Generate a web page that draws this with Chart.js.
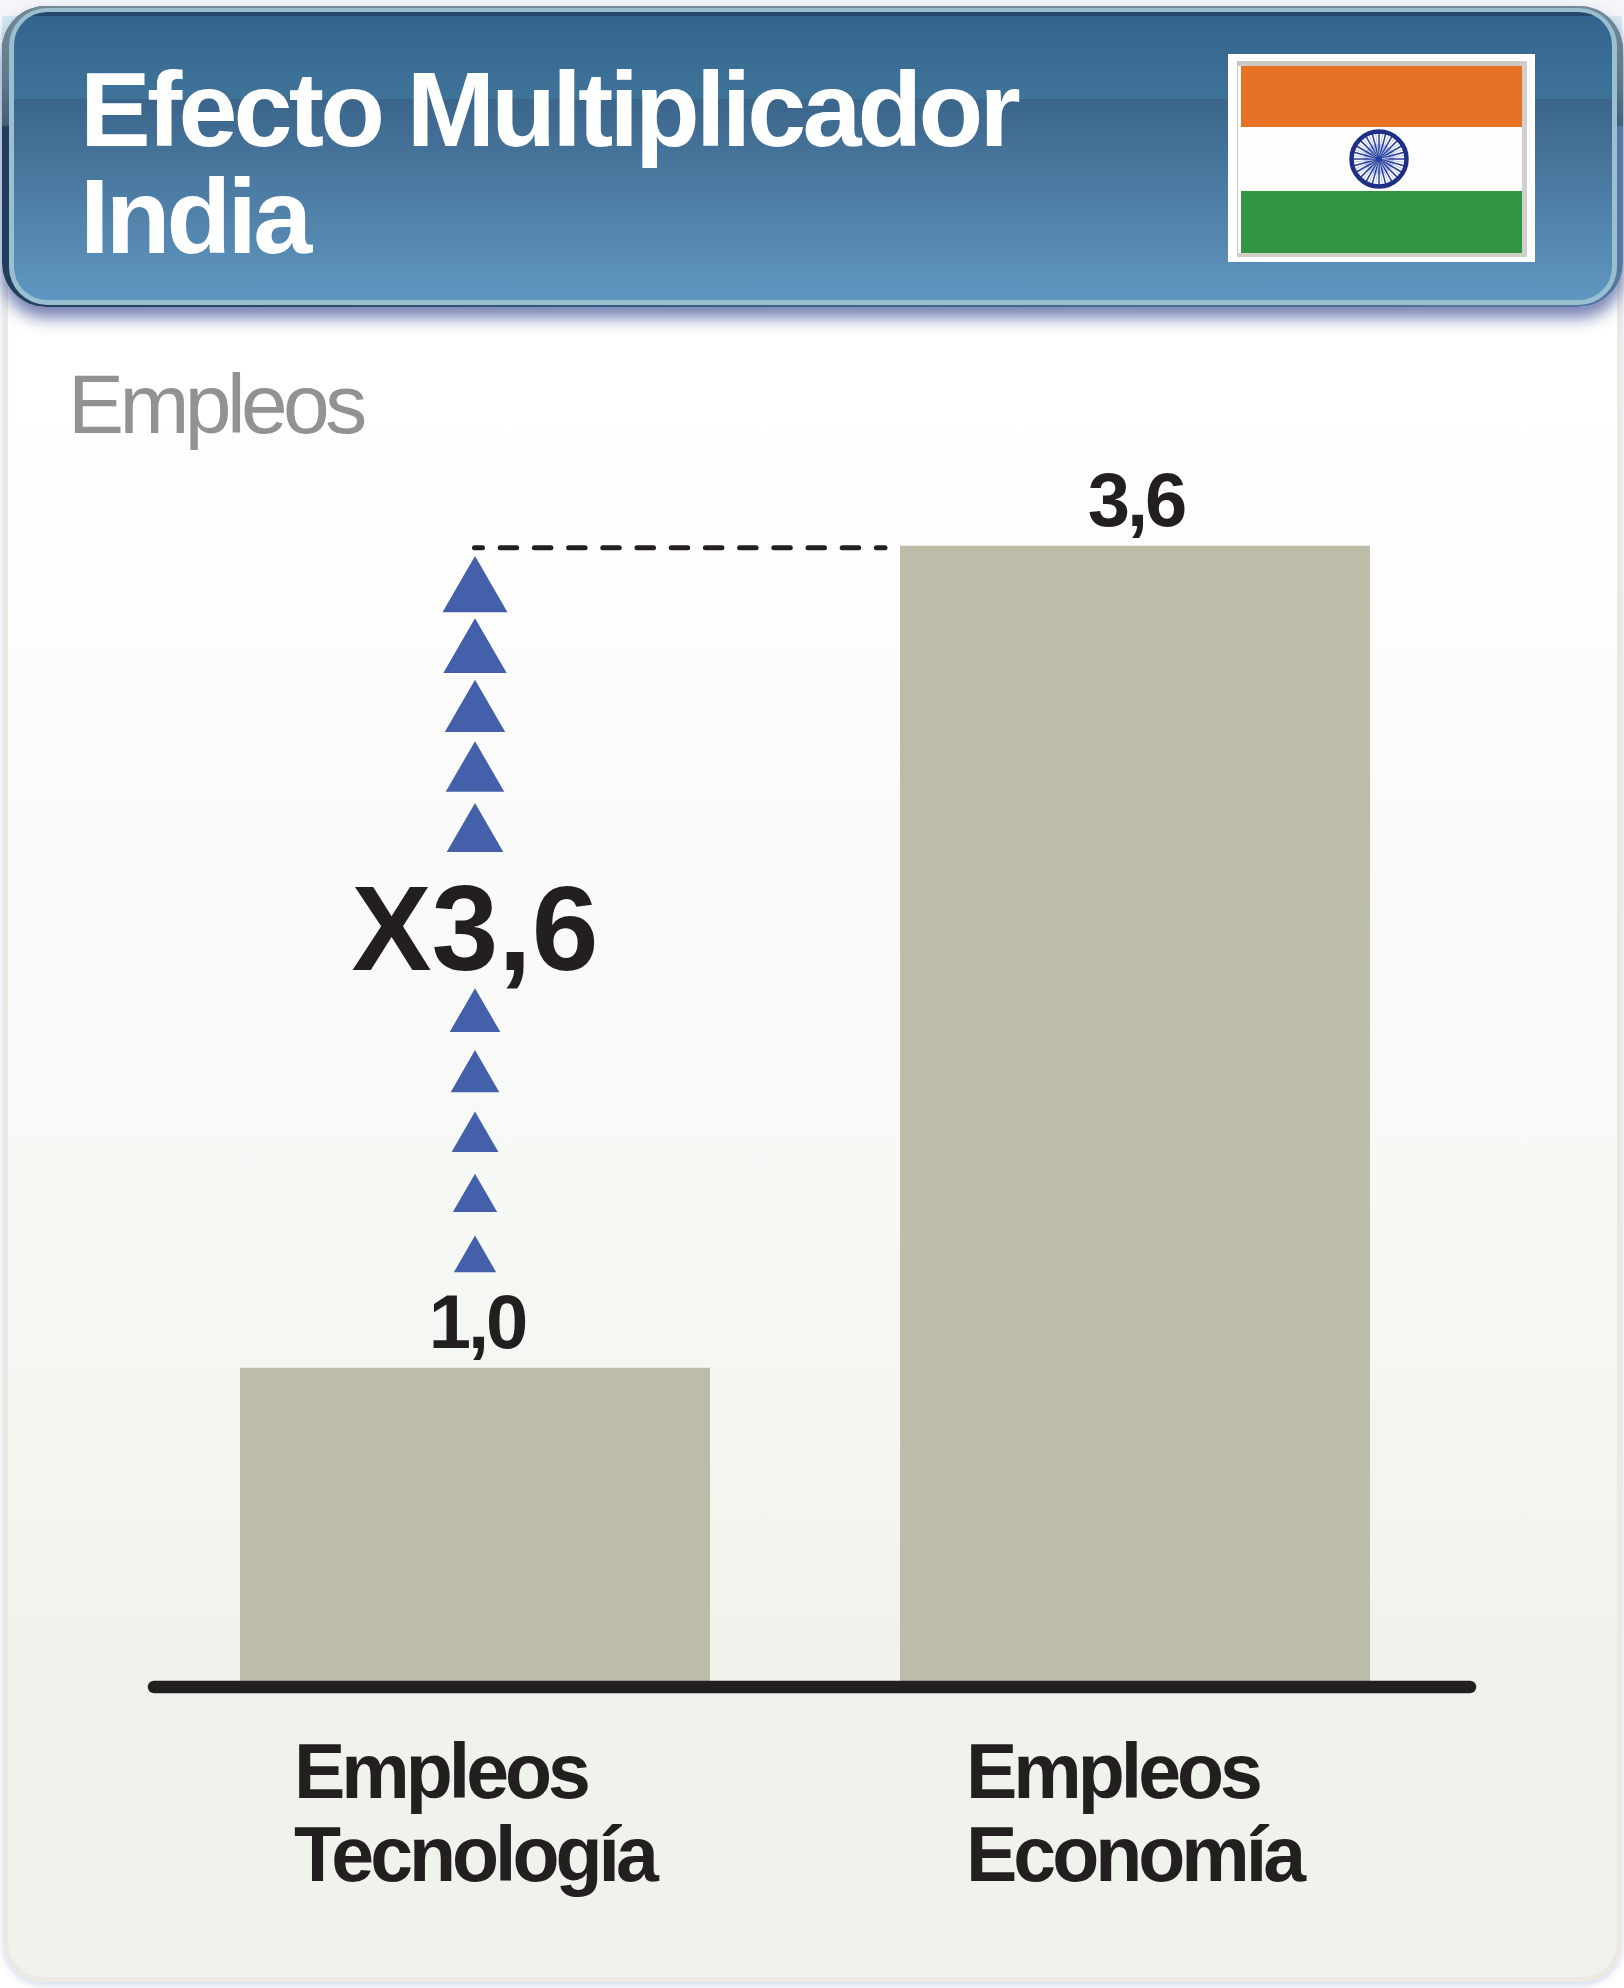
<!DOCTYPE html>
<html lang="es">
<head>
<meta charset="utf-8">
<title>Efecto Multiplicador India</title>
<script src="https://cdn.jsdelivr.net/npm/chart.js@4"></script>
<style>
html,body{margin:0;padding:0;background:#fff;}
#page{position:relative;width:1624px;height:1988px;overflow:hidden;background:#fff;font-family:"Liberation Sans",Arial,sans-serif;}
#page div,#page canvas,#page svg{position:absolute;box-sizing:border-box;}
#topband{left:0;top:0;width:1624px;height:40px;background:#f5f6f9;}
#tint{left:2px;top:16px;width:1620px;height:40px;background:#d6e9f3;}
#card{left:3px;top:30px;width:1619px;height:1952px;border:5px solid #ece9e3;border-radius:40px;
 background:linear-gradient(180deg,#ffffff 0,#ffffff 300px,#fbfcfa 700px,#f7f9f5 1150px,#f0f3eb 1620px,#f0f3eb 100%);
 box-shadow:0 3px 7px rgba(170,185,220,.55);}
#hdr-outer{left:2px;top:6px;width:1621px;height:301px;border-radius:44px;
 background:linear-gradient(90deg,#1f3f5c 0,#3b6488 50%,#56779f 100%);
 box-shadow:0 11px 16px rgba(65,80,150,.72);}
#hdr-topedge{left:2px;top:6px;width:1621px;height:120px;border-radius:44px 44px 0 0;background:linear-gradient(180deg,#768a99 0,#5f7a8a 60%,#3f5f78 100%);}
#hdr-light{left:9px;top:8px;width:1608px;height:297px;border-radius:38px;background:#99bfd1;}
#hdr-fill{left:14px;top:12px;width:1598px;height:288px;border-radius:33px;
 background:linear-gradient(180deg,#27496e 0,#27496e 4px,#33648d 4px,#3f7499 87px,#3b658b 87px,#6097c0 100%);}
#title{left:80px;top:56px;color:#fff;font-weight:700;font-size:106px;line-height:107px;letter-spacing:-3.8px;white-space:nowrap;}
#unit{left:68px;top:356px;color:#929292;font-size:84px;line-height:96px;letter-spacing:-4.6px;white-space:nowrap;}
#flag{left:1228px;top:54px;width:307px;height:208px;background:#fff;}
#flag-frame{left:9px;top:7px;width:290px;height:196px;background:#fdfdfd;border:1px solid #c8c8c8;border-right:5px solid #cfcfcf;border-top:5px solid #cfc9c4;border-bottom:4px solid #cfd0c4;}
#flag-o{left:13px;top:12px;width:281px;height:61px;background:#e57225;}
#flag-g{left:13px;top:137px;width:281px;height:62px;background:#339645;}
#wheel{left:121px;top:75px;width:60px;height:60px;}
canvas{left:0;top:0;}
</style>
</head>
<body>
<div id="page">
  <div id="topband"></div>
  <div id="tint"></div>
  <div id="card"></div>
  <div id="hdr-outer"></div>
  <div id="hdr-topedge"></div>
  <div id="hdr-light"></div>
  <div id="hdr-fill"></div>
  <div id="title">Efecto Multiplicador<br>India</div>
  <div id="flag">
    <div id="flag-frame"></div>
    <div id="flag-o"></div>
    <div id="flag-g"></div>
    <svg id="wheel" viewBox="-30 -30 60 60"></svg>
  </div>
  <div id="unit">Empleos</div>
  <canvas id="chart" width="1624" height="1988"></canvas>
</div>
<script>
// ---- chart values ----
const categories = ['Empleos Tecnología', 'Empleos Economía'];
const employmentValues = [1.0, 3.6];
const valueLabels = ['1,0', '3,6'];
const multiplierLabel = 'X3,6';
const stepValues = [3.449, 3.255, 3.066, 2.875, 2.683, 2.108, 1.916, 1.725, 1.533, 1.341];
const stepSizes = [37.5, 36.6, 34.9, 33.8, 32.7, 29.3, 28.1, 27, 25.6, 24.4];

const INK = '#231f20';
const labelShift = [-181, -169];   // left edge of each tick label relative to its bar centre
const valueShift = [2, 1];

// Ashoka chakra of the flag
(function () {
  const s = document.getElementById('wheel');
  let h = '<circle r="15" fill="#7f9bd8" opacity=".55"/>';
  for (let i = 0; i < 24; i++) {
    const a = i * Math.PI / 12, b = a + Math.PI / 24;
    h += '<path d="M0 0L' + (26 * Math.cos(a)).toFixed(2) + ' ' + (26 * Math.sin(a)).toFixed(2) +
      '" stroke="#2a3f96" stroke-width="1.5"/>';
    h += '<path d="M0 0L' + (26 * Math.cos(b)).toFixed(2) + ' ' + (26 * Math.sin(b)).toFixed(2) +
      '" stroke="#b9c6ea" stroke-width="1"/>';
  }
  h += '<circle r="27.5" fill="none" stroke="#1f2f85" stroke-width="4.5"/><circle r="3" fill="#1f3fa0"/>';
  s.innerHTML = h;
})();

const decorations = {
  id: 'decorations',
  beforeDraw(chart) {
    const x = chart.scales.x;
    x.getLabelItems(chart.chartArea).forEach((item, i) => {
      item.options.translation[0] = x.getPixelForTick(i) + labelShift[i];
    });
    chart.ctx.letterSpacing = '-4px';
  },
  afterDraw(chart) {
    const { ctx, scales: { x, y } } = chart;
    ctx.save();
    // baseline
    ctx.strokeStyle = INK;
    ctx.lineWidth = 12.5;
    ctx.lineCap = 'round';
    ctx.beginPath();
    ctx.moveTo(154, y.getPixelForValue(0) + 3);
    ctx.lineTo(1470, y.getPixelForValue(0) + 3);
    ctx.stroke();
    // dashed guide from the top of the steps to the second bar
    ctx.lineWidth = 5;
    ctx.setLineDash([16.5, 17.7]);
    ctx.lineDashOffset = 8.5;
    const gy = y.getPixelForValue(employmentValues[1]) + 2;
    ctx.beginPath();
    ctx.moveTo(474.5, gy);
    ctx.lineTo(885, gy);
    ctx.stroke();
    ctx.setLineDash([]);
    // value labels
    ctx.fillStyle = INK;
    ctx.textAlign = 'center';
    ctx.textBaseline = 'alphabetic';
    ctx.font = '700 76px "Liberation Sans"';
    ctx.letterSpacing = '-3px';
    employmentValues.forEach((v, i) => {
      ctx.fillText(valueLabels[i], x.getPixelForValue(i) + valueShift[i], y.getPixelForValue(v) - 20);
    });
    // multiplier
    ctx.font = '700 120px "Liberation Sans"';
    ctx.letterSpacing = '0px';
    ctx.fillText(multiplierLabel, x.getPixelForValue(0), 970);
    ctx.restore();
  }
};

Chart.defaults.font.family = '"Liberation Sans", Arial, sans-serif';

new Chart(document.getElementById('chart'), {
  data: {
    labels: categories,
    datasets: [
      {
        type: 'bar',
        label: 'Empleos',
        data: employmentValues,
        backgroundColor: '#bdbca8',
        barPercentage: 0.712,
        categoryPercentage: 1,
        order: 2
      },
      {
        type: 'line',
        label: 'Multiplicador',
        data: stepValues.map(v => ({ x: categories[0], y: v })),
        showLine: false,
        pointStyle: 'triangle',
        pointRadius: stepSizes,
        pointBackgroundColor: '#4560ab',
        pointBorderWidth: 0,
        order: 1
      }
    ]
  },
  plugins: [decorations],
  options: {
    responsive: false,
    animation: false,
    events: [],
    layout: { padding: { left: 145, right: 159, top: 103, bottom: 0 } },
    plugins: { legend: { display: false }, title: { display: false }, tooltip: { enabled: false } },
    scales: {
      x: {
        type: 'category',
        offset: true,
        grid: { display: false, drawTicks: false },
        border: { display: false },
        afterFit(scale) { scale.height = 304; },
        ticks: {
          callback(value) { return this.getLabelForValue(value).split(' '); },
          align: 'start',
          autoSkip: false,
          maxRotation: 0,
          color: INK,
          padding: 51,
          font: { size: 77, weight: '700', lineHeight: 83 / 77 }
        }
      },
      y: {
        display: false,
        min: 0,
        max: 5
      }
    }
  }
});
</script>
</body>
</html>
